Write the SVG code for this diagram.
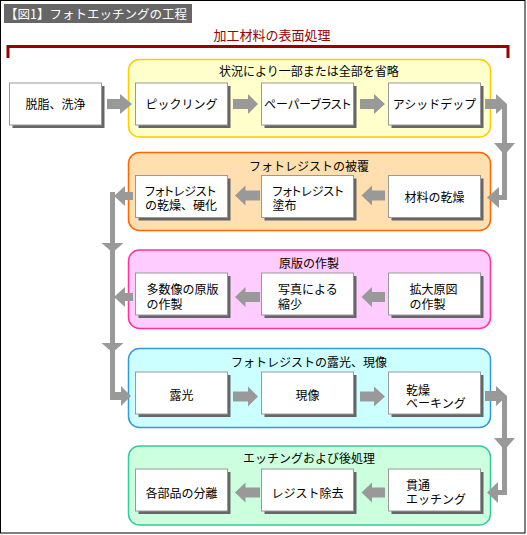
<svg xmlns="http://www.w3.org/2000/svg" width="527" height="535" viewBox="0 0 527 535">
<style>
text{font-family:"Noto Sans CJK JP","Noto Sans CJK SC",sans-serif;font-size:12px;fill:#000;}
.p{font-feature-settings:"palt";}
.c{text-anchor:middle;}
.shadow{fill:#666;}
.box{fill:#fff;stroke:#999;stroke-width:1;}
.arr{fill:#999;}
.g1{fill:#ffffcc;stroke:#ffcc00;stroke-width:1.5;}
.g2{fill:#ffdfb0;stroke:#ff6600;stroke-width:1.5;}
.g3{fill:#ffccff;stroke:#ff3399;stroke-width:1.5;}
.g4{fill:#ccffff;stroke:#3399dd;stroke-width:1.5;}
.g5{fill:#ccffdd;stroke:#33cc99;stroke-width:1.5;}
</style>
<rect x="0" y="0" width="527" height="535" fill="#fff"/>
<rect x="0.5" y="0.5" width="524.5" height="532.5" fill="none" stroke="#000" stroke-width="1"/>
<g id="title">
<rect x="4" y="4" width="188" height="19" fill="#666"/>
<text x="5" y="18.5" style="fill:#fff;font-size:12.5px;">【図1】フォトエッチングの工程</text>
</g>
<g id="bracket">
<path d="M8 58 V46.5 H508 V58" fill="none" stroke="#990000" stroke-width="3"/>
<text x="272" y="39.5" class="c" style="fill:#990000;font-size:13px;">加工材料の表面処理</text>
</g>
<g id="group1">
<rect class="g1" x="128.5" y="59.5" width="362" height="77.5" rx="11"/>
<text class="c" x="309" y="76">状況により一部または全部を省略</text>
</g>
<g id="group2">
<rect class="g2" x="128.5" y="152.5" width="362" height="78" rx="11"/>
<text class="c" x="309" y="170.5">フォトレジストの被覆</text>
</g>
<g id="group3">
<rect class="g3" x="128.5" y="250" width="362" height="78.5" rx="11"/>
<text class="c" x="309" y="268">原版の作製</text>
</g>
<g id="group4">
<rect class="g4" x="128.5" y="348.5" width="362" height="79" rx="11"/>
<text class="c" x="309" y="366.5">フォトレジストの露光、現像</text>
</g>
<g id="group5">
<rect class="g5" x="128.5" y="446" width="362" height="79" rx="11"/>
<text class="c" x="309" y="463">エッチングおよび後処理</text>
</g>
<g id="connectors">
<path class="arr" d="M107 99 H120 V94 L132 104 L120 114 V109 H107 Z"/>
<path class="arr" d="M233 99 H248 V94 L258 104 L248 114 V109 H233 Z"/>
<path class="arr" d="M360 99 H374 V94 L385 104 L374 114 V109 H360 Z"/>
<path class="arr" d="M485 99 H496 V94 L507 104 L496 114 V109 H485 Z"/>
<rect class="arr" x="502" y="104" width="5" height="96"/>
<polygon class="arr" points="494,143 515,143 504.5,155"/>
<path class="arr" d="M507 195 H499 V187 L487 197.5 L499 208 V200 H507 Z"/>
<path class="arr" d="M385 190.5 H372 V185.5 L361.5 195.5 L372 205.5 V200.5 H385 Z"/>
<path class="arr" d="M260 190.5 H245.5 V185.5 L235 195.5 L245.5 205.5 V200.5 H260 Z"/>
<path class="arr" d="M133 192 H125 V186 L114 196 L125 206 V200 H133 Z"/>
<rect class="arr" x="110" y="192" width="5" height="208"/>
<polygon class="arr" points="101.5,243 123.5,243 112.5,252.5"/>
<polygon class="arr" points="101.5,343 123.5,343 112.5,352.5"/>
<path class="arr" d="M385 292 H372 V287 L361.5 297 L372 307 V302 H385 Z"/>
<path class="arr" d="M260 292 H245.5 V287 L235 297 L245.5 307 V302 H260 Z"/>
<path class="arr" d="M133 293 H125 V287 L114 297 L125 307 V301 H133 Z"/>
<path class="arr" d="M110 392 H121 V386 L131 396 L121 406 V400 H110 Z"/>
<path class="arr" d="M233 391.5 H248 V386.5 L258 396.5 L248 406.5 V401.5 H233 Z"/>
<path class="arr" d="M360 391.5 H374 V386.5 L385 396.5 L374 406.5 V401.5 H360 Z"/>
<path class="arr" d="M485 391 H496 V386 L507 396 L496 406 V401 H485 Z"/>
<rect class="arr" x="502" y="396" width="5" height="99"/>
<polygon class="arr" points="494,438 515,438 504.5,450"/>
<path class="arr" d="M507 490 H498 V482 L487 492.5 L498 503 V495 H507 Z"/>
<path class="arr" d="M385 487.5 H372 V482.5 L361.5 492.5 L372 502.5 V497.5 H385 Z"/>
<path class="arr" d="M260 487.5 H245.5 V482.5 L235 492.5 L245.5 502.5 V497.5 H260 Z"/>
</g>
<g id="n-degrease">
<rect class="shadow" x="12.5" y="86" width="92" height="42"/>
<rect class="box" x="9.5" y="83" width="92" height="42"/>
<text class="c" x="55.5" y="108.5">脱脂、洗浄</text>
</g>
<g id="n-pickling">
<rect class="shadow" x="138.5" y="86" width="92" height="42"/>
<rect class="box" x="135.5" y="83" width="92" height="42"/>
<text class="c" x="181.5" y="108.5">ピックリング</text>
</g>
<g id="n-paperblast">
<rect class="shadow" x="264.5" y="86" width="92" height="42"/>
<rect class="box" x="261.5" y="83" width="92" height="42"/>
<text class="c p" x="307.5" y="108.5">ペーパーブラスト</text>
</g>
<g id="n-aciddip">
<rect class="shadow" x="391.5" y="86" width="92" height="42"/>
<rect class="box" x="388.5" y="83" width="92" height="42"/>
<text class="c" x="434.5" y="108.5">アシッドデップ</text>
</g>
<g id="n-dry">
<rect class="shadow" x="391.5" y="178.5" width="92" height="42"/>
<rect class="box" x="388.5" y="175.5" width="92" height="42"/>
<text class="c" x="434.5" y="202">材料の乾燥</text>
</g>
<g id="n-coat">
<rect class="shadow" x="264.5" y="178.5" width="92" height="42"/>
<rect class="box" x="261.5" y="175.5" width="92" height="42"/>
<text x="272.5" y="196"><tspan class="p">フォトレジスト</tspan><tspan x="272.5" dy="13.5">塗布</tspan></text>
</g>
<g id="n-harden">
<rect class="shadow" x="138.5" y="178.5" width="92" height="42"/>
<rect class="box" x="135.5" y="175.5" width="92" height="42"/>
<text x="145" y="196"><tspan class="p">フォトレジスト</tspan><tspan x="145" dy="13.5">の乾燥、硬化</tspan></text>
</g>
<g id="n-original">
<rect class="shadow" x="391.5" y="276" width="92" height="42"/>
<rect class="box" x="388.5" y="273" width="92" height="42"/>
<text x="409.5" y="294">拡大原図<tspan x="409.5" dy="14.5">の作製</tspan></text>
</g>
<g id="n-reduce">
<rect class="shadow" x="264.5" y="276" width="92" height="42"/>
<rect class="box" x="261.5" y="273" width="92" height="42"/>
<text x="278" y="294">写真による<tspan x="278" dy="14.5">縮少</tspan></text>
</g>
<g id="n-multi">
<rect class="shadow" x="138.5" y="276" width="92" height="42"/>
<rect class="box" x="135.5" y="273" width="92" height="42"/>
<text x="146.5" y="294">多数像の原版<tspan x="146.5" dy="14.5">の作製</tspan></text>
</g>
<g id="n-expose">
<rect class="shadow" x="138.5" y="375" width="92" height="42"/>
<rect class="box" x="135.5" y="372" width="92" height="42"/>
<text class="c" x="181.5" y="399.5">露光</text>
</g>
<g id="n-develop">
<rect class="shadow" x="264.5" y="375" width="92" height="42"/>
<rect class="box" x="261.5" y="372" width="92" height="42"/>
<text class="c" x="307.5" y="399.5">現像</text>
</g>
<g id="n-bake">
<rect class="shadow" x="391.5" y="375" width="92" height="42"/>
<rect class="box" x="388.5" y="372" width="92" height="42"/>
<text x="406" y="394.5">乾燥<tspan x="406" dy="13">ベーキング</tspan></text>
</g>
<g id="n-etch">
<rect class="shadow" x="391.5" y="472" width="92" height="42"/>
<rect class="box" x="388.5" y="469" width="92" height="42"/>
<text x="406" y="489.5">貫通<tspan x="406" dy="14.5">エッチング</tspan></text>
</g>
<g id="n-strip">
<rect class="shadow" x="264.5" y="472" width="92" height="42"/>
<rect class="box" x="261.5" y="469" width="92" height="42"/>
<text class="c" x="307.5" y="498">レジスト除去</text>
</g>
<g id="n-separate">
<rect class="shadow" x="138.5" y="472" width="92" height="42"/>
<rect class="box" x="135.5" y="469" width="92" height="42"/>
<text class="c" x="181.5" y="498">各部品の分離</text>
</g>
</svg>
